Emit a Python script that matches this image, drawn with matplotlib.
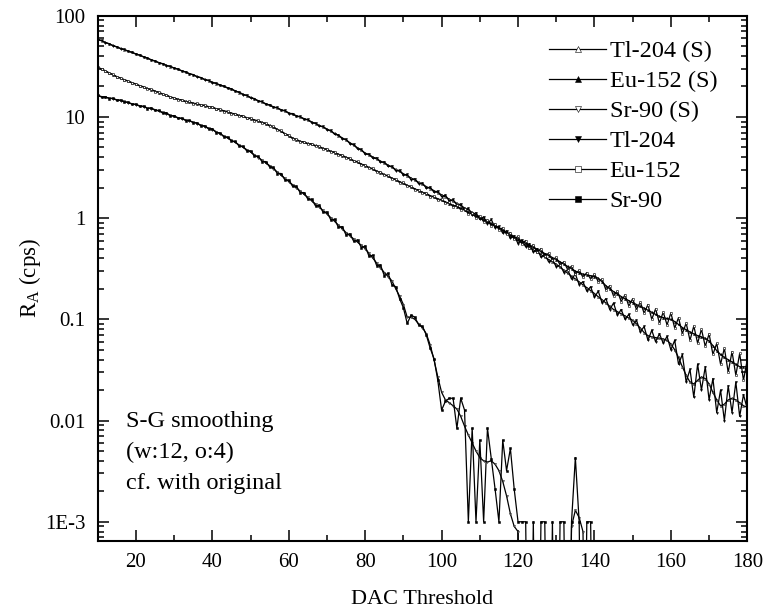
import matplotlib
matplotlib.use("Agg")
import matplotlib.pyplot as plt
from matplotlib.ticker import FixedLocator, MultipleLocator, NullFormatter

plt.rcParams['font.family'] = ['Liberation Serif', 'DejaVu Serif']
plt.rcParams['mathtext.default'] = 'regular'

# DAC threshold scan, one point per DAC unit
dac = list(range(10, 181))

# Savitzky-Golay smoothed count rates (cps)
tl204_s = [
    58.5, 56.5, 54.5, 52.6, 50.8, 49.0, 47.5, 46.1, 44.7, 43.3,
    42.0, 40.6, 39.3, 38.0, 36.7, 35.5, 34.4, 33.4, 32.4, 31.4,
    30.5, 29.5, 28.6, 27.7, 26.8, 26.0, 25.1, 24.3, 23.5, 22.8,
    22.0, 21.3, 20.7, 20.0, 19.4, 18.8, 18.1, 17.4, 16.8, 16.2,
    15.6, 15.0, 14.5, 14.0, 13.5, 13.0, 12.6, 12.2, 11.8, 11.4,
    11.0, 10.6, 10.3, 9.95, 9.62, 9.30, 8.93, 8.58, 8.24, 7.91,
    7.60, 7.22, 6.87, 6.53, 6.21, 5.90, 5.56, 5.25, 4.95, 4.67,
    4.40, 4.20, 4.02, 3.84, 3.67, 3.50, 3.34, 3.18, 3.03, 2.89,
    2.75, 2.62, 2.49, 2.37, 2.26, 2.15, 2.05, 1.96, 1.87, 1.78,
    1.70, 1.62, 1.54, 1.47, 1.40, 1.33, 1.26, 1.20, 1.14, 1.08,
    1.03, 0.979, 0.931, 0.885, 0.841, 0.800, 0.755, 0.713, 0.673, 0.635,
    0.600, 0.569, 0.540, 0.512, 0.485, 0.460, 0.436, 0.412, 0.390, 0.370,
    0.350, 0.327, 0.306, 0.286, 0.267, 0.250, 0.234, 0.219, 0.205, 0.192,
    0.180, 0.167, 0.156, 0.145, 0.135, 0.125, 0.119, 0.113, 0.108, 0.103,
    0.098, 0.090, 0.082, 0.074, 0.069, 0.067, 0.066, 0.065, 0.064, 0.062,
    0.057, 0.050, 0.042, 0.034, 0.028, 0.024, 0.023, 0.025, 0.027, 0.026,
    0.023, 0.019, 0.016, 0.014, 0.0145, 0.016, 0.0166, 0.016, 0.015, 0.014,
    0.0135,
]
eu152_s = [
    31.0, 29.7, 28.4, 27.2, 26.1, 25.0, 24.1, 23.3, 22.5, 21.8,
    21.0, 20.4, 19.7, 19.1, 18.6, 18.0, 17.4, 16.9, 16.3, 15.8,
    15.3, 15.0, 14.6, 14.3, 14.0, 13.7, 13.4, 13.2, 12.9, 12.65,
    12.4, 12.1, 11.8, 11.5, 11.2, 10.9, 10.6, 10.35, 10.1, 9.85,
    9.6, 9.35, 9.1, 8.85, 8.55, 8.25, 7.9, 7.55, 7.2, 6.85,
    6.5, 6.2, 5.95, 5.75, 5.6, 5.48, 5.36, 5.22, 5.06, 4.9,
    4.75, 4.59, 4.43, 4.28, 4.14, 4.0, 3.85, 3.70, 3.56, 3.43,
    3.30, 3.17, 3.05, 2.93, 2.81, 2.70, 2.59, 2.49, 2.39, 2.29,
    2.20, 2.11, 2.03, 1.95, 1.87, 1.80, 1.74, 1.67, 1.61, 1.55,
    1.50, 1.45, 1.39, 1.34, 1.30, 1.25, 1.20, 1.14, 1.09, 1.05,
    1.00, 0.956, 0.915, 0.875, 0.837, 0.800, 0.760, 0.722, 0.686, 0.652,
    0.620, 0.591, 0.564, 0.538, 0.514, 0.490, 0.468, 0.447, 0.427, 0.408,
    0.390, 0.370, 0.351, 0.333, 0.316, 0.300, 0.288, 0.280, 0.275, 0.270,
    0.265, 0.255, 0.235, 0.215, 0.200, 0.188, 0.178, 0.168, 0.160, 0.153,
    0.146, 0.140, 0.134, 0.129, 0.123, 0.117, 0.112, 0.107, 0.104, 0.102,
    0.100, 0.095, 0.089, 0.083, 0.079, 0.075, 0.072, 0.069, 0.067, 0.065,
    0.061, 0.055, 0.049, 0.045, 0.042, 0.040, 0.038, 0.036, 0.034, 0.034,
    0.034,
]
sr90_s = [
    16.2, 15.9, 15.6, 15.4, 15.1, 14.8, 14.5, 14.2, 13.8, 13.5,
    13.2, 12.9, 12.6, 12.3, 12.1, 11.8, 11.4, 11.1, 10.8, 10.4,
    10.1, 9.85, 9.6, 9.35, 9.1, 8.9, 8.6, 8.31, 8.03, 7.76,
    7.5, 7.15, 6.81, 6.5, 6.19, 5.9, 5.59, 5.29, 5.01, 4.75,
    4.5, 4.23, 3.97, 3.74, 3.51, 3.3, 3.07, 2.86, 2.66, 2.47,
    2.3, 2.14, 1.99, 1.85, 1.72, 1.6, 1.48, 1.38, 1.28, 1.19,
    1.10, 1.01, 0.929, 0.853, 0.784, 0.72, 0.669, 0.622, 0.579, 0.538,
    0.50, 0.448, 0.402, 0.361, 0.323, 0.29, 0.265, 0.24, 0.20, 0.17,
    0.14, 0.105, 0.105, 0.10, 0.09, 0.083, 0.072, 0.056, 0.04, 0.027,
    0.019, 0.016, 0.015, 0.014, 0.013, 0.011, 0.0088, 0.0072, 0.006, 0.005,
    0.0043, 0.004, 0.0039, 0.004, 0.0037, 0.0032, 0.0025, 0.0018, 0.0012, 0.0009,
    0.0008, 0, 0, 0, 0, 0, 0, 0, 0, 0,
    0, 0, 0, 0, 0.0009, 0.0013, 0.0011, 0.0008, 0, 0,
    0, 0, 0, 0, 0, 0, 0, 0, 0, 0,
    0, 0, 0, 0, 0, 0, 0, 0, 0, 0,
    0, 0, 0, 0, 0, 0, 0, 0, 0, 0,
    0, 0, 0, 0, 0, 0, 0, 0, 0, 0,
    0,
]

# measured count rates (cps)
tl204 = [
    58.0, 57.0, 54.2, 52.9, 50.5, 49.3, 47.2, 46.4, 44.5, 43.6,
    41.7, 40.9, 39.1, 38.3, 36.5, 35.8, 34.2, 33.6, 32.2, 31.6,
    30.3, 29.8, 28.4, 27.9, 26.6, 26.2, 24.9, 24.5, 23.3, 23.0,
    21.8, 21.5, 20.5, 20.2, 19.2, 19.0, 17.9, 17.6, 16.6, 16.4,
    15.4, 15.2, 14.3, 14.2, 13.3, 13.2, 12.4, 12.4, 11.6, 11.6,
    10.8, 10.8, 10.1, 10.1, 9.45, 9.45, 8.77, 8.72, 8.09, 8.05,
    7.45, 7.36, 6.72, 6.66, 6.07, 6.02, 5.43, 5.37, 4.82, 4.78,
    4.28, 4.31, 3.90, 3.95, 3.56, 3.60, 3.24, 3.27, 2.93, 2.98,
    2.66, 2.70, 2.40, 2.45, 2.18, 2.22, 1.97, 2.03, 1.80, 1.85,
    1.63, 1.69, 1.47, 1.53, 1.34, 1.38, 1.20, 1.25, 1.08, 1.13,
    0.97, 1.03, 0.88, 0.97, 0.80, 0.83, 0.71, 0.75, 0.63, 0.67,
    0.56, 0.61, 0.52, 0.56, 0.46, 0.50, 0.41, 0.44, 0.37, 0.39,
    0.33, 0.345, 0.29, 0.31, 0.25, 0.28, 0.22, 0.235, 0.19, 0.21,
    0.165, 0.19, 0.145, 0.16, 0.125, 0.145, 0.11, 0.125, 0.10, 0.112,
    0.088, 0.098, 0.075, 0.085, 0.062, 0.078, 0.060, 0.072, 0.058, 0.068,
    0.050, 0.062, 0.036, 0.045, 0.024, 0.032, 0.017, 0.036, 0.020, 0.034,
    0.016, 0.026, 0.012, 0.020, 0.010, 0.022, 0.012, 0.024, 0.011, 0.018,
    0.013,
]
eu152 = [
    31.3, 29.5, 28.6, 27.0, 26.3, 24.8, 24.3, 23.1, 22.7, 21.6,
    21.2, 20.2, 19.9, 18.9, 18.8, 17.8, 17.6, 16.7, 16.5, 15.6,
    15.5, 14.8, 14.8, 14.1, 14.2, 13.5, 13.6, 13.0, 13.1, 12.5,
    12.6, 11.9, 12.0, 11.3, 11.4, 10.7, 10.8, 10.2, 10.3, 9.7,
    9.75, 9.2, 9.25, 8.7, 8.7, 8.1, 8.05, 7.4, 7.35, 6.72,
    6.62, 6.08, 6.05, 5.65, 5.7, 5.38, 5.45, 5.12, 5.15, 4.8,
    4.84, 4.5, 4.52, 4.2, 4.22, 3.92, 3.93, 3.63, 3.63, 3.36,
    3.37, 3.11, 3.11, 2.87, 2.87, 2.64, 2.65, 2.44, 2.44, 2.24,
    2.25, 2.07, 2.07, 1.91, 1.91, 1.76, 1.78, 1.63, 1.65, 1.51,
    1.54, 1.41, 1.43, 1.30, 1.34, 1.21, 1.24, 1.10, 1.13, 1.01,
    1.05, 0.92, 0.96, 0.84, 0.88, 0.77, 0.80, 0.69, 0.72, 0.62,
    0.66, 0.56, 0.60, 0.51, 0.545, 0.46, 0.50, 0.42, 0.45, 0.385,
    0.41, 0.345, 0.37, 0.31, 0.335, 0.28, 0.305, 0.26, 0.29, 0.25,
    0.28, 0.235, 0.25, 0.195, 0.215, 0.17, 0.19, 0.15, 0.175, 0.135,
    0.16, 0.125, 0.148, 0.115, 0.14, 0.10, 0.127, 0.092, 0.118, 0.088,
    0.116, 0.082, 0.104, 0.072, 0.092, 0.062, 0.086, 0.058, 0.080, 0.054,
    0.072, 0.045, 0.058, 0.036, 0.052, 0.030, 0.048, 0.028, 0.046, 0.025,
    0.040,
]
sr90 = [
    16.4, 15.7, 15.8, 15.2, 15.3, 14.6, 14.7, 14.0, 14.0, 13.3,
    13.4, 12.7, 12.8, 12.1, 12.3, 11.6, 11.6, 10.9, 11.0, 10.2,
    10.3, 9.7, 9.75, 9.2, 9.25, 8.75, 8.75, 8.15, 8.18, 7.6,
    7.65, 7.0, 6.95, 6.35, 6.33, 5.76, 5.72, 5.15, 5.13, 4.62,
    4.62, 4.1, 4.08, 3.62, 3.62, 3.2, 3.17, 2.76, 2.76, 2.38,
    2.38, 2.06, 2.07, 1.78, 1.79, 1.54, 1.54, 1.32, 1.34, 1.14,
    1.15, 0.96, 0.975, 0.81, 0.825, 0.68, 0.70, 0.59, 0.61, 0.51,
    0.53, 0.42, 0.43, 0.34, 0.345, 0.27, 0.285, 0.22, 0.21, 0.16,
    0.13, 0.091, 0.11, 0.105, 0.088, 0.085, 0.070, 0.052, 0.041, 0.025,
    0.0127, 0.0155, 0.0166, 0.0166, 0.0084, 0.0166, 0.0127, 0.001, 0.0084, 0.001,
    0.0064, 0.001, 0.0084, 0.0042, 0.0021, 0.001, 0.0064, 0.0032, 0.0053, 0.0021,
    0.001, 0.001, 0.001, 0, 0.001, 0, 0.001, 0.001, 0, 0.001,
    0, 0.001, 0.001, 0, 0.001, 0.0043, 0.001, 0, 0.001, 0.001,
    0, 0, 0, 0, 0, 0, 0, 0, 0, 0,
    0, 0, 0, 0, 0, 0, 0, 0, 0, 0,
    0, 0, 0, 0, 0, 0, 0, 0, 0, 0,
    0, 0, 0, 0, 0, 0, 0, 0, 0, 0,
    0,
]

series = [
    ("Tl-204 (S)", tl204_s, "^", "white"),
    ("Eu-152 (S)", eu152_s, "^", "black"),
    ("Sr-90 (S)", sr90_s, "v", "white"),
    ("Tl-204", tl204, "v", "black"),
    ("Eu-152", eu152, "s", "white"),
    ("Sr-90", sr90, "s", "black"),
]

# zero counts sit far below the log axis, so their segments drop off the frame
FLOOR = 1e-6

W, H = 763, 612
fig = plt.figure(figsize=(W / 100, H / 100), dpi=100)
left, right, top, bottom = 97.7, 747.3, 15.7, 540.7
ax = fig.add_axes([left / W, 1 - bottom / H, (right - left) / W, (bottom - top) / H])
ax.set_yscale('log')

for label, vals, mk, fc in series:
    yv = [v if v > 0 else FLOOR for v in vals]
    ax.plot(dac, yv, color='black', lw=0.9, marker=mk, markersize=1.4,
            markerfacecolor=fc, markeredgecolor='black', markeredgewidth=0.4,
            label=label)

ax.set_xlim(10, 180)
ax.set_ylim(6.5e-4, 100)

ax.xaxis.set_major_locator(MultipleLocator(20))
ax.xaxis.set_minor_locator(MultipleLocator(10))
ax.yaxis.set_major_locator(FixedLocator([1e-3, 1e-2, 1e-1, 1, 10, 100]))
ax.set_yticklabels(["1E-3", "0.01", "0.1", "1", "10", "100"])
minor = [m * 10.0 ** e for e in range(-4, 2) for m in range(2, 10)]
ax.yaxis.set_minor_locator(FixedLocator(minor))
ax.yaxis.set_minor_formatter(NullFormatter())

for s in ax.spines.values():
    s.set_linewidth(1.5)
ax.tick_params(which='both', direction='in', top=True, right=True,
               labelsize=15, width=1.1)
ax.tick_params(which='major', length=8, pad=9)
ax.tick_params(which='minor', length=4.3)

ax.set_xlabel("DAC Threshold", fontsize=16, labelpad=13)
ax.set_ylabel("$R_{A}$ (cps)", fontsize=16.5, labelpad=1)

leg = ax.legend(loc='upper left', bbox_to_anchor=(549 / W, 1 - 40 / H),
                bbox_transform=fig.transFigure, frameon=False, fontsize=17.5,
                handlelength=2.35, handletextpad=0.15, labelspacing=0.33,
                borderpad=0, borderaxespad=0, markerscale=3.2)

notes = ["S-G smoothing", "(w:12, o:4)", "cf. with original"]
for i, t in enumerate(notes):
    fig.text(126 / W, 1 - (427.5 + 31 * i) / H, t, fontsize=17.5,
             va='baseline', ha='left')

fig.savefig("out.png", dpi=100)
